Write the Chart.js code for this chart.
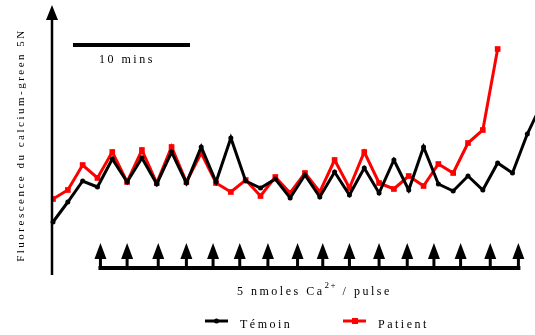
<!DOCTYPE html>
<html>
<head>
<meta charset="utf-8">
<script src="https://cdn.jsdelivr.net/npm/chart.js@4"></script>
<style>
  html, body { margin: 0; padding: 0; background: #fff; }
  #wrap { width: 535px; height: 335px; position: relative; }
</style>
</head>
<body>
<div id="wrap"><canvas id="chart"></canvas></div>
<script>
// Fluorescence readings, one per sample (arbitrary units)
const temoin = [53, 73, 94, 88, 116, 93, 117, 91, 123, 92, 128, 93, 137, 94, 87, 96, 77,
  100, 78, 103, 80, 107, 82, 115, 85, 128, 91, 84, 99, 85, 112, 102, 141, 172];
const patient = [76, 85, 110, 97, 123, 93, 125, 92, 128, 93, 122, 92, 83, 95, 79, 98, 82,
  102, 83, 115, 87, 123, 92, 86, 99, 89, 111, 102, 132, 145, 226];
// Ca2+ pulses (in sample units)
const pulses = [3.2, 5.0, 7.1, 9.0, 10.8, 12.6, 14.5, 16.5, 18.2, 20.0, 22.0, 23.9, 25.7, 27.5, 29.5, 31.4];
const seriesNames = ["Témoin", "Patient"];

const serif = '"Liberation Serif", "DejaVu Serif", serif';

function toPoints(values) {
  return values.map((v, i) => ({ x: i, y: v }));
}

function spaced(ctx, text, x, y, spacing) {
  ctx.letterSpacing = spacing + "px";
  ctx.fillText(text, x, y);
  const w = ctx.measureText(text).width;
  ctx.letterSpacing = "0px";
  return w;
}

// axis arrow, scale bar, pulse markers, labels and legend
const decorations = {
  id: "decorations",
  afterDraw(chart) {
    const ctx = chart.ctx;
    const area = chart.chartArea;
    const xs = chart.scales.x;
    ctx.save();
    ctx.fillStyle = "#000";
    ctx.strokeStyle = "#000";

    // y axis with arrow head
    const ax = area.left - 1;
    ctx.lineWidth = 2.5;
    ctx.beginPath();
    ctx.moveTo(ax, 18);
    ctx.lineTo(ax, area.bottom);
    ctx.stroke();
    ctx.beginPath();
    ctx.moveTo(ax, 5);
    ctx.lineTo(ax - 6, 20);
    ctx.lineTo(ax + 6, 20);
    ctx.closePath();
    ctx.fill();

    // 10 mins scale bar
    ctx.lineWidth = 4;
    ctx.beginPath();
    ctx.moveTo(73, 45);
    ctx.lineTo(190, 45);
    ctx.stroke();
    ctx.font = "12px " + serif;
    ctx.textBaseline = "alphabetic";
    ctx.textAlign = "left";
    spaced(ctx, "10 mins", 99, 63, 2.5);

    // pulse bar and arrows
    const p0 = xs.getPixelForValue(pulses[0]) - 2;
    const p1 = xs.getPixelForValue(pulses[pulses.length - 1]) + 2;
    ctx.lineWidth = 4;
    ctx.beginPath();
    ctx.moveTo(p0, 268);
    ctx.lineTo(p1, 268);
    ctx.stroke();
    pulses.forEach(p => {
      const px = xs.getPixelForValue(p);
      ctx.beginPath();
      ctx.moveTo(px, 243);
      ctx.lineTo(px - 6, 259);
      ctx.lineTo(px + 6, 259);
      ctx.closePath();
      ctx.fill();
      ctx.fillRect(px - 1.5, 258, 3, 9);
    });

    // pulse label with superscript
    let tx = 237;
    ctx.font = "12px " + serif;
    tx += spaced(ctx, "5 nmoles Ca", tx, 295, 2.5);
    ctx.font = "9px " + serif;
    tx += spaced(ctx, "2+", tx, 288, 1.5);
    ctx.font = "12px " + serif;
    spaced(ctx, " / pulse", tx, 295, 2.5);

    // y axis title
    ctx.save();
    ctx.translate(24, 145);
    ctx.rotate(-Math.PI / 2);
    ctx.font = "11px " + serif;
    ctx.textAlign = "center";
    spaced(ctx, "Fluorescence du calcium-green 5N", 0, 0, 2.5);
    ctx.restore();

    // legend
    const items = [
      { x: 205, color: "#000", shape: "circle" },
      { x: 343, color: "#ff0000", shape: "rect" }
    ];
    items.forEach((it, k) => {
      ctx.strokeStyle = it.color;
      ctx.fillStyle = it.color;
      ctx.lineWidth = 3;
      ctx.beginPath();
      ctx.moveTo(it.x, 321);
      ctx.lineTo(it.x + 23, 321);
      ctx.stroke();
      if (it.shape === "circle") {
        ctx.beginPath();
        ctx.arc(it.x + 11.5, 321, 2.5, 0, Math.PI * 2);
        ctx.fill();
      } else {
        ctx.fillRect(it.x + 9, 318, 6, 6);
      }
      ctx.fillStyle = "#000";
      ctx.font = "12px " + serif;
      ctx.textAlign = "left";
      spaced(ctx, seriesNames[k], it.x + 35, 328, 2.5);
    });

    ctx.restore();
  }
};

new Chart(document.getElementById("chart"), {
  type: "line",
  data: {
    datasets: [
      {
        label: seriesNames[0],
        data: toPoints(temoin),
        borderColor: "#000",
        backgroundColor: "#000",
        borderWidth: 3,
        pointStyle: "circle",
        pointRadius: 2.5,
        pointBorderWidth: 0,
        tension: 0,
        clip: { left: 5, top: 5, right: 12, bottom: 5 }
      },
      {
        label: seriesNames[1],
        data: toPoints(patient),
        borderColor: "#ff0000",
        backgroundColor: "#ff0000",
        borderWidth: 3,
        pointStyle: "rect",
        pointRadius: 4,
        pointBorderWidth: 0,
        tension: 0
      }
    ]
  },
  options: {
    responsive: true,
    maintainAspectRatio: false,
    animation: false,
    layout: { padding: { left: 53, right: 0, top: 15, bottom: 60 } },
    scales: {
      x: { type: "linear", min: 0, max: 32.25, display: false },
      y: { min: 0, max: 260, display: false }
    },
    plugins: {
      legend: { display: false },
      tooltip: { enabled: false }
    }
  },
  plugins: [decorations]
});
</script>
</body>
</html>
